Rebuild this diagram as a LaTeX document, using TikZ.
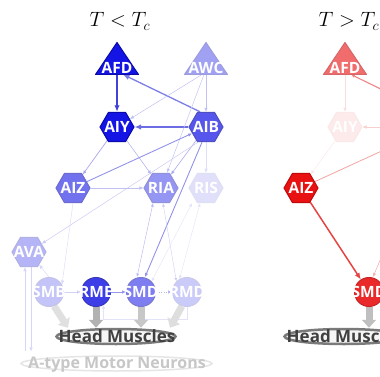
\documentclass[tikz,border=0pt]{standalone}
\usepackage{fontspec}
\setmainfont{Open Sans}
\usetikzlibrary{shapes.geometric,arrows.meta,calc,backgrounds}
\definecolor{nb}{RGB}{20,20,228}
\definecolor{nbd}{RGB}{10,10,170}
\definecolor{nr}{RGB}{232,18,18}
\definecolor{nrd}{RGB}{190,10,10}
\definecolor{eb}{RGB}{45,45,215}
\definecolor{er}{RGB}{225,35,35}
\tikzset{
  hexb/.style={regular polygon, regular polygon sides=6, minimum size=34pt, inner sep=0pt, line width=1pt, fill=nb!#1!white, draw=nbd!#1!white},
  hexr/.style={regular polygon, regular polygon sides=6, minimum size=34pt, inner sep=0pt, line width=1pt, fill=nr!#1!white, draw=nrd!#1!white},
  hexn/.style={regular polygon, regular polygon sides=6, minimum size=34pt, inner sep=0pt},
  cirb/.style={circle, minimum size=29pt, inner sep=0pt, line width=1pt, fill=nb!#1!white, draw=nbd!#1!white},
  cirr/.style={circle, minimum size=29pt, inner sep=0pt, line width=1pt, fill=nr!#1!white, draw=nrd!#1!white},
  tribox/.style={rectangle, minimum width=43pt, minimum height=32pt, inner sep=0pt, outer sep=0pt},
  tribfill/.style={fill=nb!#1!white, draw=nbd!#1!white, line width=1pt, line join=round},
  trirfill/.style={fill=nr!#1!white, draw=nrd!#1!white, line width=1pt, line join=round},
  lab/.style={text=white, font=\fontsize{15.5}{15.5}\selectfont\bfseries, inner sep=0pt},
  edgeb/.style 2 args={draw=eb!#1!white, line width=#2pt, arrows={-Latex[length=4pt,width=3.5pt]}},
  edger/.style 2 args={draw=er!#1!white, line width=#2pt, arrows={-Latex[length=4pt,width=3.5pt]}},
  bighead/.style={arrows={-Latex[length=6.5pt,width=5.5pt]}},
  bidir/.style={arrows={Latex[length=3.5pt,width=3pt]-Latex[length=3.5pt,width=3pt]}},
  blk/.style={line width=7pt, draw=#1, arrows={-Triangle[width=14pt,length=8pt]}},
  muscle/.style={ellipse, minimum width=119pt, minimum height=15pt, inner sep=0pt, line width=2.5pt, draw=black!52, fill=black!4},
  motor/.style={ellipse, minimum width=191pt, minimum height=15pt, inner sep=0pt, line width=1.5pt, draw=black!10, fill=white},
  ttl/.style={font=\fontsize{20}{24}\selectfont, inner sep=0pt, anchor=base}
}
\begin{document}
\begin{tikzpicture}[x=1pt,y=-1pt]
\useasboundingbox (0,0) rectangle (380,377);
\clip (0,0) rectangle (380,377);

% ---------- titles
\node[ttl] (t1) at (120,27) {$T < T_c$};
\node[ttl] (t2) at (349,27) {$T > T_c$};

% ---------- left panel shapes
\node[tribox] (AFD) at (117,58.5) {};
\node[tribox] (AWC) at (206,58.5) {};
\draw[tribfill=100] (AFD.south west) -- (AFD.south east) -- (AFD.north) -- cycle;
\draw[tribfill=40] (AWC.south west) -- (AWC.south east) -- (AWC.north) -- cycle;
\node[hexb=100] (AIY) at (117,127) {};
\node[hexb=72] (AIB) at (206,127) {};
\node[hexb=60] (AIZ) at (73,188) {};
\node[hexb=45] (RIA) at (161,188) {};
\node[hexb=13] (RIS) at (206,188) {};
\node[hexb=32] (AVA) at (29,252) {};
\node[cirb=25] (SMB) at (49,292) {};
\node[cirb=82] (RME) at (96,292) {};
\node[cirb=55] (SMD) at (141,292) {};
\node[cirb=22] (RMD) at (187,292) {};
\node[muscle] (HM) at (116,336.5) {};
\node[motor] (AT) at (116.5,363.5) {};
\coordinate (atop) at ([yshift=4pt]AT.north);
\coordinate (ava1) at ([xshift=-4pt]AVA.south);
\coordinate (ava2) at ([xshift=2pt]AVA.south);

% ---------- right panel shapes
\node[tribox] (AFDr) at (345,58.5) {};
\draw[trirfill=62] (AFDr.south west) -- (AFDr.south east) -- (AFDr.north) -- cycle;
\node[hexr=9] (AIYr) at (345,127) {};
\node[hexn] (AIBr) at (434,127) {};
\node[hexr=100] (AIZr) at (301,188) {};
\node[cirr=90] (SMDr) at (369,292) {};
\node[muscle] (HMr) at (344,336.5) {};

\begin{scope}[on background layer]
% left edges
\draw[edgeb={90}{1.6}, bighead] (AFD.south) -- (AIY.north);
\draw[edgeb={62}{1.3}, bighead] ([xshift=-6pt]AIB.north) -- ([xshift=6pt]AFD.south);
\draw[edgeb={70}{1.4}, bighead] (AIB.west) -- (AIY.east);
\draw[edgeb={30}{0.5}] ([xshift=-4pt]AWC.south) -- (AIY);
\draw[edgeb={30}{0.5}] (AWC.south) -- (AIB.north);
\draw[edgeb={28}{0.5}] ([xshift=-2pt]AWC.south) -- ([xshift=6pt]RIA.north);
\draw[edgeb={42}{0.7}] (AIY) -- (AIZ);
\draw[edgeb={35}{0.6}] (AIY) -- (RIA);
\draw[edgeb={52}{0.9}] (AIZ) -- (AIB);
\draw[edgeb={40}{0.6}] (AIB) -- (RIA);
\draw[edgeb={25}{0.5}] ([xshift=-8pt]AIB.south) -- (AVA);
\draw[edgeb={52}{0.9}] ([xshift=-4pt]AIB.south) -- ([xshift=4pt]SMD.north);
\draw[edgeb={16}{0.4}] (AIB.south) -- (RIS.north);
\draw[edgeb={30}{0.5}] (AIZ.east) -- (RIA.west);
\draw[edgeb={18}{0.4}] (AIZ.south) -- (SMB.30);
\draw[edgeb={20}{0.4}] (SMB.north) -- (AVA);
\draw[edgeb={20}{0.4}] (ava1 |- atop) -- (ava1);
\draw[edgeb={20}{0.4}] (ava2) -- (ava2 |- atop);
\draw[edgeb={32}{0.5}, bidir] ([xshift=-8pt]RIA.south) -- ([xshift=-4pt]SMD.north);
\draw[edgeb={24}{0.4}, bidir] ([xshift=2pt]RIA.south) -- (RMD.135);
\draw[edgeb={14}{0.4}, bidir] ([xshift=-14pt]RIS.south) -- (SMD.45);
\draw[edgeb={14}{0.4}, bidir] ([xshift=-6pt]RIS.south) -- (RMD.120);
\draw[edgeb={22}{0.4}] (SMB.east) -- (RME.west);
\draw[edgeb={50}{0.8}] (RME.east) -- (SMD.west);
\draw[edgeb={35}{0.6}, dotted] (SMD.east) -- (RMD.west);
\draw[edgeb={14}{0.4}] (RMD.south) -- ++(0,12) -| (RME.-60);
% block arrows
\draw[blk=black!12] (SMB.-70) -- ($(HM.north)+(-48,0)$);
\draw[blk=black!30] (RME.south) -- (RME.south |- HM.north);
\draw[blk=black!22] (SMD.south) -- (SMD.south |- HM.north);
\draw[blk=black!13] (RMD.-110) -- ($(HM.north)+(54,0)$);
% right edges
\draw[edger={15}{0.5}] (AFDr.south) -- (AIYr.north);
\draw[edger={55}{1.1}] ([xshift=-6pt]AIBr.north) -- ([xshift=6pt]AFDr.south);
\draw[edger={22}{0.5}] (AIBr.west) -- (AIYr.east);
\draw[edger={12}{0.4}] (AIYr) -- (AIZr);
\draw[edger={42}{0.8}] (AIZr) -- (AIBr);
\draw[edger={85}{1.5}, bighead] (AIZr) -- (SMDr);
\draw[edger={35}{0.6}] ([xshift=-4pt]AIBr.south) -- ([xshift=4pt]SMDr.north);
\draw[blk=black!25] (SMDr.south) -- (SMDr.south |- HMr.north);
\end{scope}

% ---------- labels
\node[lab] (AFDl) at (117,68) {AFD};
\node[lab] (AWCl) at (206,68) {AWC};
\node[lab] (AIYl) at (AIY) {AIY};
\node[lab] (AIBl) at (AIB) {AIB};
\node[lab] (AIZl) at (AIZ) {AIZ};
\node[lab] (RIAl) at (RIA) {RIA};
\node[lab] (RISl) at (RIS) {RIS};
\node[lab] (AVAl) at (AVA) {AVA};
\node[lab] (SMBl) at (SMB) {SMB};
\node[lab] (RMEl) at (RME) {RME};
\node[lab] (SMDl) at (SMD) {SMD};
\node[lab] (RMDl) at (RMD) {RMD};
\node[font=\fontsize{17}{17}\selectfont\bfseries, text=black!75, inner sep=0pt, anchor=base] (HMl) at (117,342) {Head Muscles};
\node[font=\fontsize{16}{16}\selectfont\bfseries, text=black!22, inner sep=0pt, anchor=base] (ATl) at (117,368) {A-type Motor Neurons};
\node[lab] (AFDrl) at (345,68) {AFD};
\node[lab] (AIYrl) at (AIYr) {AIY};
\node[lab] (AIZrl) at (AIZr) {AIZ};
\node[lab] (SMDrl) at (SMDr) {SMD};
\node[font=\fontsize{17}{17}\selectfont\bfseries, text=black!75, inner sep=0pt, anchor=base] (HMrl) at (345,342) {Head Muscles};
\end{tikzpicture}
\end{document}
